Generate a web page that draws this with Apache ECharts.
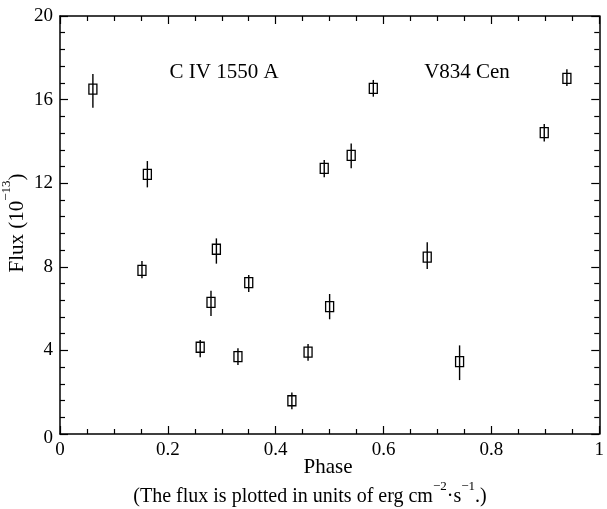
<!DOCTYPE html>
<html>
<head>
<meta charset="utf-8">
<script src="https://cdn.jsdelivr.net/npm/echarts@6/dist/echarts.min.js"></script>
<style>
  html, body { margin: 0; padding: 0; background: #fff; }
  #chart { width: 607px; height: 509px; }
</style>
</head>
<body>
<div id="chart"></div>
<script>
// C IV 1550 A flux of V834 Cen against orbital phase, with error bars
const phase    = [0.061, 0.152, 0.162, 0.260, 0.280, 0.290, 0.330, 0.350, 0.430, 0.460, 0.490, 0.500, 0.540, 0.581, 0.681, 0.741, 0.898, 0.940];
const flux     = [16.50, 7.83, 12.42, 4.15, 6.30, 8.84, 3.70, 7.24, 1.59, 3.92, 12.71, 6.09, 13.33, 16.54, 8.46, 3.46, 14.42, 17.02];
const fluxHigh = [17.22, 8.28, 13.06, 4.50, 6.86, 9.36, 4.10, 7.61, 1.98, 4.31, 13.11, 6.70, 13.90, 16.94, 9.17, 4.24, 14.83, 17.45];
const fluxLow  = [15.61, 7.45, 11.80, 3.67, 5.65, 8.15, 3.30, 6.79, 1.18, 3.51, 12.28, 5.49, 12.71, 16.14, 7.89, 2.58, 14.00, 16.65];
const xTicks = [0, 0.2, 0.4, 0.6, 0.8, 1];
const yTicks = [0, 4, 8, 12, 16, 20];

const FONT = '"Liberation Serif", "DejaVu Serif", serif';
const points = phase.map((x, i) => [x, flux[i], fluxHigh[i], fluxLow[i]]);

const chart = echarts.init(document.getElementById('chart'), null, { renderer: 'canvas' });

function frameAxis(splitNumber) {
  return {
    axisLine: { show: true, onZero: false, lineStyle: { color: '#000', width: 1.5 } },
    axisTick: { show: true, inside: true, length: 8, lineStyle: { color: '#000', width: 1.2 } },
    minorTick: { show: true, splitNumber: splitNumber, length: 5, lineStyle: { color: '#000', width: 1.2 } },
    splitLine: { show: false },
    minorSplitLine: { show: false }
  };
}

function xAxisDef(pos, showLabels) {
  return Object.assign({
    type: 'value', position: pos, min: xTicks[0], max: xTicks[xTicks.length - 1], interval: 0.2,
    axisLabel: {
      show: showLabels, color: '#000', fontFamily: FONT, fontSize: 19, margin: 7,
      formatter: v => String(+v.toFixed(1))
    }
  }, frameAxis(4));
}
function yAxisDef(pos, showLabels) {
  return Object.assign({
    type: 'value', position: pos, min: yTicks[0], max: yTicks[yTicks.length - 1], interval: 4,
    axisLabel: {
      show: showLabels, color: '#000', fontFamily: FONT, fontSize: 19, margin: 7,
      formatter: v => v === 0 ? '{z|0}' : String(v),
      rich: { z: { fontFamily: FONT, fontSize: 19, color: '#000', padding: [8, 0, 0, 0] } }
    }
  }, frameAxis(5));
}

// rich styles for labels that carry exponents
function supRich(size) {
  return {
    n: { fontFamily: FONT, fontSize: size, lineHeight: 34, fill: '#000' },
    sup: { fontFamily: FONT, fontSize: 13, lineHeight: 13, verticalAlign: 'top', fill: '#000' }
  };
}

chart.setOption({
  animation: false,
  backgroundColor: '#fff',
  grid: { left: 60, right: 4, top: 16, bottom: 75 },
  xAxis: [xAxisDef('bottom', true), xAxisDef('top', false)],
  yAxis: [yAxisDef('left', true), yAxisDef('right', false)],
  series: [{
    type: 'custom',
    xAxisIndex: 0, yAxisIndex: 0,
    data: points,
    renderItem: function (params, api) {
      const x = api.value(0);
      const c = api.coord([x, api.value(1)]);
      const hi = api.coord([x, api.value(2)]);
      const lo = api.coord([x, api.value(3)]);
      const w = 8, h = 10;
      return {
        type: 'group',
        children: [
          { type: 'line', shape: { x1: hi[0], y1: hi[1], x2: lo[0], y2: lo[1] },
            style: { stroke: '#000', lineWidth: 1.4 } },
          { type: 'rect', shape: { x: c[0] - w / 2, y: c[1] - h / 2, width: w, height: h },
            style: { fill: 'none', stroke: '#000', lineWidth: 1.3 } }
        ]
      };
    }
  }],
  graphic: [
    { type: 'text', x: 224, y: 72,
      style: { text: 'C IV 1550 A', font: '21px ' + FONT, fill: '#000', textAlign: 'center', textVerticalAlign: 'middle' } },
    { type: 'text', x: 467, y: 72,
      style: { text: 'V834 Cen', font: '21px ' + FONT, fill: '#000', textAlign: 'center', textVerticalAlign: 'middle' } },
    { type: 'text', x: 328, y: 467,
      style: { text: 'Phase', font: '21px ' + FONT, fill: '#000', textAlign: 'center', textVerticalAlign: 'middle' } },
    { type: 'text', x: 17, y: 223, rotation: Math.PI / 2,
      style: {
        text: '{n|Flux (10}{sup|−13}{n|)}', textAlign: 'center', textVerticalAlign: 'middle',
        rich: supRich(21)
      } },
    { type: 'text', x: 310, y: 497,
      style: {
        text: '{n|(The flux is plotted in units of erg cm}{sup|−2}{n|·s}{sup|−1}{n|.)}',
        textAlign: 'center', textVerticalAlign: 'middle',
        rich: supRich(20)
      } }
  ]
});
</script>
</body>
</html>
